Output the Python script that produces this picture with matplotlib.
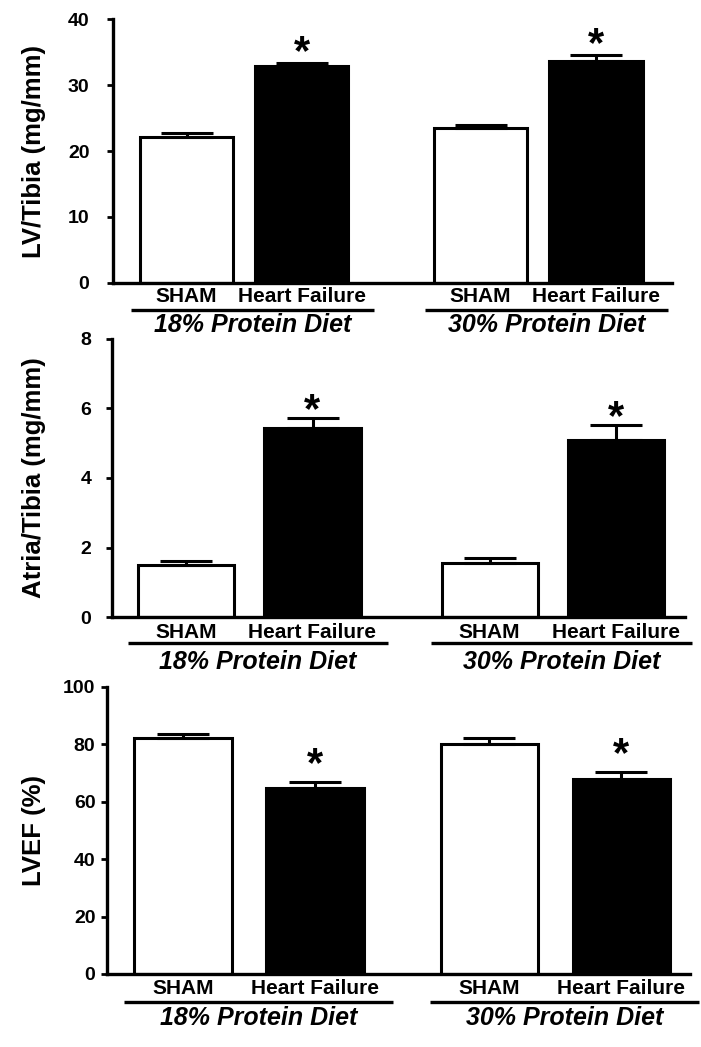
import matplotlib
matplotlib.use("Agg")
import matplotlib.pyplot as plt
from matplotlib import transforms

# data
groups = ["18% Protein Diet", "30% Protein Diet"]
conditions = ["SHAM", "Heart Failure"]

lv_tibia = [22.2, 32.9, 23.5, 33.6]
lv_tibia_err = [0.5, 0.4, 0.5, 1.0]
atria_tibia = [1.49, 5.45, 1.57, 5.09]
atria_tibia_err = [0.13, 0.27, 0.14, 0.43]
lvef = [82.1, 64.7, 80.0, 67.8]
lvef_err = [1.4, 2.0, 2.3, 2.4]
significant = [False, True, False, True]

plt.rcParams["font.family"] = ["Liberation Sans", "DejaVu Sans"]
plt.rcParams["font.weight"] = "bold"

W, H = 701, 1047
fig = plt.figure(figsize=(W / 100, H / 100), dpi=100)


def fy(py):
    return 1 - py / H


panels = [
    dict(values=lv_tibia, errs=lv_tibia_err, ylabel="LV/Tibia (mg/mm)",
         ylim=(0, 40), yticks=range(0, 41, 10),
         left=113, right=672, top=19.3, bottom=282.7,
         gap=1.55, width=0.81, x0=186.5, unit=115.3,
         sub_y=297, line_y=310, grp_y=325, star=16, pad=13),
    dict(values=atria_tibia, errs=atria_tibia_err, ylabel="Atria/Tibia (mg/mm)",
         ylim=(0, 8), yticks=range(0, 9, 2),
         left=112, right=685, top=338.7, bottom=617.3,
         gap=1.40, width=0.76, x0=186, unit=126.5,
         sub_y=632, line_y=643, grp_y=662, star=13, pad=11),
    dict(values=lvef, errs=lvef_err, ylabel="LVEF (%)",
         ylim=(0, 100), yticks=range(0, 101, 20),
         left=106.5, right=690, top=686.7, bottom=974,
         gap=1.32, width=0.735, x0=183, unit=132,
         sub_y=988, line_y=1002, grp_y=1018, star=23, pad=4),
]

for p in panels:
    rect = [p["left"] / W, fy(p["bottom"]), (p["right"] - p["left"]) / W,
            (p["bottom"] - p["top"]) / H]
    ax = fig.add_axes(rect)
    g = p["gap"]
    xs = [0, 1, 1 + g, 2 + g]
    ax.bar(xs, p["values"], width=p["width"], color=["white", "black"] * 2,
           edgecolor="black", linewidth=2.2, zorder=2)
    ax.errorbar(xs, p["values"], yerr=[[0] * 4, p["errs"]], fmt="none",
                ecolor="black", elinewidth=2.2, capsize=19, capthick=2.2, zorder=3)

    ax.set_xlim((p["left"] - p["x0"]) / p["unit"], (p["right"] - p["x0"]) / p["unit"])
    ax.set_ylim(*p["ylim"])
    ax.set_yticks(list(p["yticks"]))
    for s in ["top", "right"]:
        ax.spines[s].set_visible(False)
    for s in ["left", "bottom"]:
        ax.spines[s].set_linewidth(2.4)
    ax.tick_params(axis="x", bottom=False, labelbottom=False)
    ax.tick_params(axis="y", direction="out", length=4, width=2,
                   labelsize=14, pad=p["pad"])

    # significance stars
    for x, v, e, sig in zip(xs, p["values"], p["errs"], significant):
        if sig:
            ax.annotate("*", xy=(x, v + e), xytext=(0, (p["star"] - 17) * 0.72),
                        textcoords="offset points", ha="center", va="baseline",
                        fontsize=30, fontweight="bold")

    # labels under the axis
    tr = transforms.blended_transform_factory(ax.transData, fig.transFigure)
    for i, grp in enumerate(groups):
        a, b = xs[2 * i], xs[2 * i + 1]
        for x, cond in zip((a, b), conditions):
            ax.text(x, fy(p["sub_y"]), cond, transform=tr, ha="center",
                    va="center", fontsize=15, fontweight="bold", clip_on=False)
        x_lo = a - p["width"] / 2 - 0.08
        x_hi = b + p["width"] / 2 + 0.22
        ax.plot([x_lo, x_hi], [fy(p["line_y"])] * 2, transform=tr, color="black",
                lw=2.4, clip_on=False, solid_capstyle="butt")
        ax.text((x_lo + x_hi) / 2, fy(p["grp_y"]), grp, transform=tr, ha="center",
                va="center", fontsize=18, fontweight="bold", style="italic",
                clip_on=False)

    fig.text(34 / W, fy((p["top"] + p["bottom"]) / 2), p["ylabel"], rotation=90,
             ha="center", va="center", fontsize=18.5, fontweight="bold")

fig.savefig("out.png", dpi=100)
